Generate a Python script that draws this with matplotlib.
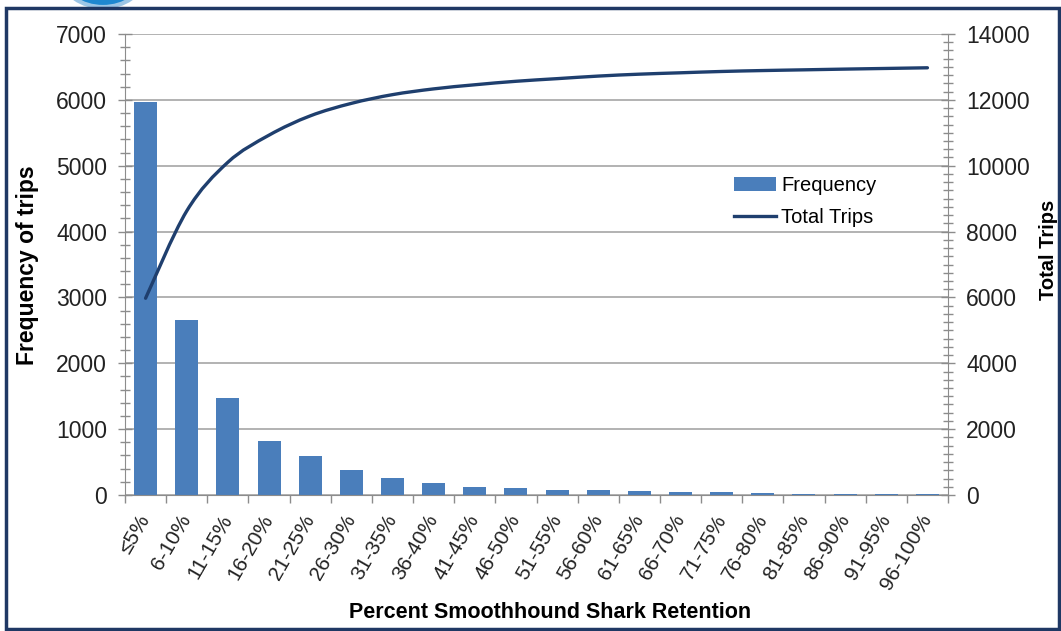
import numpy as np
import matplotlib
matplotlib.use("Agg")
import matplotlib.pyplot as plt
from matplotlib.path import Path
from matplotlib.patches import PathPatch, Rectangle, Ellipse
from matplotlib.lines import Line2D
from matplotlib.ticker import MultipleLocator

plt.rcParams['font.family'] = ['Liberation Sans', 'DejaVu Sans']

categories = ["≤5%", "6-10%", "11-15%", "16-20%", "21-25%", "26-30%", "31-35%",
              "36-40%", "41-45%", "46-50%", "51-55%", "56-60%", "61-65%", "66-70%",
              "71-75%", "76-80%", "81-85%", "86-90%", "91-95%", "96-100%"]
frequency = [5975, 2650, 1480, 823, 585, 380, 265, 175, 125, 106,
             80, 78, 58, 42, 40, 28, 22, 22, 20, 20]
total_trips = [5975, 8625, 10105, 10928, 11513, 11893, 12158, 12333, 12458, 12564,
               12644, 12722, 12780, 12822, 12862, 12890, 12912, 12934, 12954, 12974]

W, H = 1061, 631
fig = plt.figure(figsize=(W / 100, H / 100), dpi=100)
ax = fig.add_axes([125 / W, 1 - 495 / H, (948 - 125) / W, (495 - 34) / H])
ax2 = ax.twinx()

bar_color = '#4a7ebb'
line_color = '#1f3f6e'
grid_color = '#a6a6a6'
axis_color = '#8c8c8c'

x = np.arange(len(categories))
ax.bar(x, frequency, width=0.56, color=bar_color, zorder=2)
ax.set_xlim(-0.5, len(categories) - 0.5)
ax.set_ylim(0, 7000)
ax.yaxis.set_major_locator(MultipleLocator(1000))
ax.yaxis.set_minor_locator(MultipleLocator(200))
ax.grid(axis='y', which='major', color=grid_color, linewidth=1.2, zorder=0)
ax.set_axisbelow(True)

# smoothed line (Catmull-Rom -> cubic Bezier) through data points
xs = x.astype(float)
ys = np.array(total_trips, dtype=float)
verts = [(xs[0], ys[0])]
codes = [Path.MOVETO]
n = len(xs)
for i in range(n - 1):
    p0 = (xs[i - 1], ys[i - 1]) if i > 0 else (xs[i], ys[i])
    p1 = (xs[i], ys[i])
    p2 = (xs[i + 1], ys[i + 1])
    p3 = (xs[i + 2], ys[i + 2]) if i + 2 < n else (xs[i + 1], ys[i + 1])
    c1 = (p1[0] + (p2[0] - p0[0]) / 6, p1[1] + (p2[1] - p0[1]) / 6)
    c2 = (p2[0] - (p3[0] - p1[0]) / 6, p2[1] - (p3[1] - p1[1]) / 6)
    verts += [c1, c2, p2]
    codes += [Path.CURVE4] * 3
ax2.add_patch(PathPatch(Path(verts, codes), facecolor='none', edgecolor=line_color,
                        linewidth=2.4, capstyle='round', zorder=3))
ax2.set_ylim(0, 14000)
ax2.yaxis.set_major_locator(MultipleLocator(2000))
ax2.yaxis.set_minor_locator(MultipleLocator(250))

# x ticks
ax.set_xticks(x)
ax.set_xticklabels(categories, rotation=60, ha='right', va='center',
                   rotation_mode='anchor', fontsize=15, color='#222222')
ax.tick_params(axis='x', which='major', length=0, pad=15)
ax.set_xticks(np.arange(-0.5, len(categories), 1.0), minor=True)
ax.tick_params(axis='x', which='minor', length=6, width=1, color=axis_color, direction='out')

for a in (ax, ax2):
    a.tick_params(axis='y', which='major', length=10, width=1, color=axis_color,
                  direction='inout', labelsize=16.5, labelcolor='#222222', pad=8)
    a.tick_params(axis='y', which='minor', length=7, width=1, color=axis_color,
                  direction='inout')
    for s in a.spines.values():
        s.set_visible(False)
ax.spines['left'].set_visible(True)
ax.spines['left'].set_color(axis_color)
ax.spines['bottom'].set_visible(True)
ax.spines['bottom'].set_color(axis_color)
ax2.spines['right'].set_visible(True)
ax2.spines['right'].set_color(axis_color)

fig.text(28 / W, 1 - 265 / H, "Frequency of trips", fontsize=16.5, fontweight='bold',
         rotation=90, ha='center', va='center')
fig.text(1049 / W, 1 - 250 / H, "Total Trips", fontsize=14.5, fontweight='bold',
         rotation=90, ha='center', va='center')
fig.text(550 / W, 1 - 613 / H, "Percent Smoothhound Shark Retention", fontsize=15.5,
         fontweight='bold', ha='center', va='center')

handles = [Rectangle((0, 0), 1, 1, facecolor=bar_color),
           Line2D([0], [0], color=line_color, linewidth=2.4)]
fig.legend(handles, ["Frequency", "Total Trips"], loc='upper left',
           bbox_to_anchor=(716 / W, 1 - 158 / H), frameon=False, fontsize=14.5,
           handlelength=2.1, handleheight=0.7, handletextpad=0.25, labelspacing=0.65)

# outer frame and logo fragment
fig.patches.append(Ellipse((103 / W, 1 + 22 / H), 80 / W, 58 / H, transform=fig.transFigure,
                           facecolor='#1e88d0', edgecolor='#9cc6e6', linewidth=3, zorder=0))
fig.patches.append(Rectangle((6 / W, 2 / H), (W - 8) / W, (H - 10) / H,
                             transform=fig.transFigure, fill=False,
                             edgecolor='#1f3864', linewidth=2.5, zorder=1))

fig.savefig("out.png", dpi=100)
